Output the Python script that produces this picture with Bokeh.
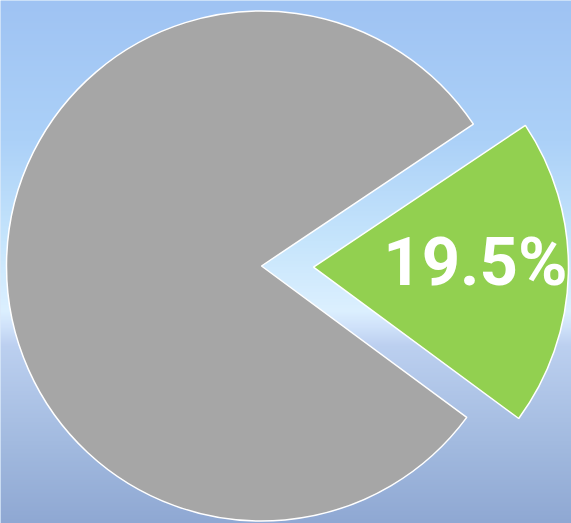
import numpy as np
from bokeh.plotting import figure
from bokeh.embed import file_html
from bokeh.resources import INLINE
from bokeh.models import ColumnDataSource
from bokeh.core.properties import value

# ---- data ----
categories = ["Other", "Highlighted"]
shares = [80.5, 19.5]
slice_colors = ["#a6a6a6", "#92d050"]
exploded = [False, True]
labels = ["", "19.5%"]

# ---- layout (pixels) ----
W, H = 571, 523
cx, cy = 261.0, H - 265.5
R = 255.0
explode_px = 52.0
rot = np.deg2rad(-1.3)
font_px = 67
cap = 0.711 * font_px

p = figure(width=W, height=H, x_range=(0, W), y_range=(0, H),
           output_backend="svg", toolbar_location=None, min_border=0)
p.axis.visible = False
p.grid.visible = False
p.outline_line_color = None
p.background_fill_color = "#b8d6f6"
p.border_fill_color = "#b8d6f6"

# decorative sky background (vertical gradient)
stops_y = [0, 140, 240, 310, 326, 345, 440, 523]
stops_c = ["#9fc3f3", "#acd1f8", "#c6e5fc", "#dcf0ff", "#d0e2fa", "#bcd0f0", "#a3bbe0", "#8fa8d3"]
rows = np.arange(H)
page_y = (H - 1 - rows)  # row 0 is bottom
rgb = np.array([[int(c[i:i + 2], 16) for i in (1, 3, 5)] for c in stops_c], dtype=float)
img = np.zeros((H, 1), dtype=np.uint32)
view = img.view(dtype=np.uint8).reshape((H, 1, 4))
for k in range(3):
    view[:, 0, k] = np.interp(page_y, stops_y, rgb[:, k]).astype(np.uint8)
view[:, 0, 3] = 255
p.image_rgba(image=[img], x=0, y=0, dw=W, dh=H)

# ---- pie ----
total = float(sum(shares))
fr = np.array(shares) / total
hi = 1  # highlighted slice centred on the right
a0 = rot - np.pi * fr[hi]
order = [hi] + [i for i in range(len(shares)) if i != hi]
acc = a0
tmp = {}
for i in order:
    tmp[i] = (acc, acc + 2 * np.pi * fr[i])
    acc += 2 * np.pi * fr[i]
xs, ys, st, en, lx, ly = [], [], [], [], [], []
for i in range(len(shares)):
    s, e = tmp[i]
    mid = (s + e) / 2
    off = explode_px if exploded[i] else 0.0
    x0 = cx + off * np.cos(mid)
    y0 = cy + off * np.sin(mid)
    xs.append(x0); ys.append(y0); st.append(s); en.append(e)
    lx.append(x0 + 0.635 * R * np.cos(mid))
    ly.append(y0 + 0.635 * R * np.sin(mid) + 33 - cap / 2)

src = ColumnDataSource(dict(x=xs, y=ys, start=st, end=en, color=slice_colors,
                            name=categories, lx=lx, ly=ly, label=labels))
p.wedge(x="x", y="y", radius=R, start_angle="start", end_angle="end",
        fill_color="color", line_color="white", line_width=1.5, source=src)

p.text(x="lx", y="ly", text="label", source=src, text_color="white",
       text_font=value("Roboto"), text_font_style="bold",
       text_font_size=f"{font_px}px", text_align="center", text_baseline="alphabetic")

open("out.html", "w").write(file_html(p, INLINE))
